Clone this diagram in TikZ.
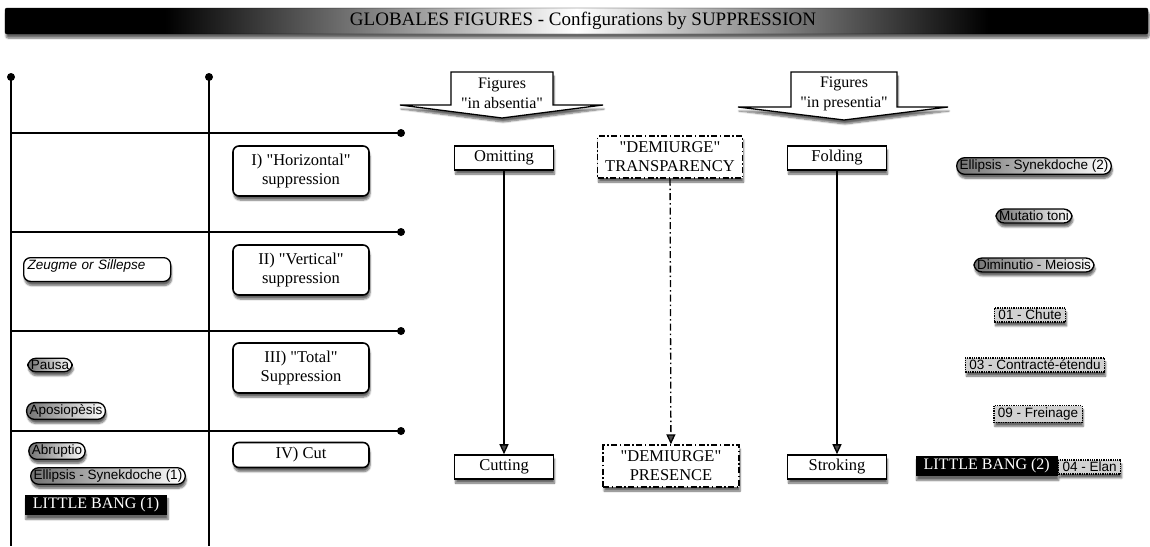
\documentclass[tikz,border=0pt]{standalone}
\usepackage{fontspec}
\setmainfont{Liberation Serif}[Ligatures=TeXOff]
\setsansfont{Liberation Sans}[Ligatures=TeXOff]
\usetikzlibrary{arrows.meta,shadows,shadows.blur}

\pgfdeclarehorizontalshading{titlebar}{100bp}{color(0bp)=(black); color(32bp)=(black); color(50bp)=(white); color(68bp)=(black); color(100bp)=(black)}

\begin{document}
\begin{tikzpicture}[x=1pt,y=-1pt]

	\tikzset{
		shade it/.style={blur shadow={shadow xshift=1pt,shadow yshift=-4pt,shadow blur steps=6,shadow opacity=60}},
		stage/.style={draw,line width=1.6pt,rounded corners=6pt,fill=white,align=center,font=\fontsize{16.5}{19}\selectfont,minimum width=136pt,shade it},
		verb/.style={draw,line width=1.6pt,fill=white,font=\fontsize{16.5}{18}\selectfont,minimum width=99pt,minimum height=24pt,inner sep=1pt,shade it},
		demi/.style={draw,line width=1.3pt,dash pattern=on 6pt off 2.5pt on 1.5pt off 2.5pt,fill=white,align=center,font=\fontsize{16.5}{19}\selectfont,minimum height=42pt,inner sep=2pt,shade it},
		pill/.style={draw,line width=1.3pt,rounded corners=8pt,left color=black!55,middle color=black!12,right color=white,font=\sffamily\fontsize{13.5}{14}\selectfont,inner xsep=3pt,inner ysep=2pt,shade it},
		note/.style={draw,line width=1.3pt,rounded corners=7pt,fill=white,font=\sffamily\itshape\fontsize{13.5}{14}\selectfont,inner xsep=4pt,inner ysep=2pt,shade it},
		tag/.style={draw,densely dotted,line width=1.3pt,fill=black!18,font=\sffamily\fontsize{13.5}{14}\selectfont,inner xsep=4pt,inner ysep=2pt,shade it},
		bang/.style={fill=black,text=white,font=\fontsize{16}{18}\selectfont,inner xsep=8pt,inner ysep=3pt,shade it},
		knob/.style={circle,fill=black,inner sep=0pt,minimum size=8pt},
		flow/.style={line width=1.3pt,-{Triangle[length=10pt,width=9pt]}}
	}
	
	\useasboundingbox (0,0) rectangle (1150,546);
	
	% title bar
	\path[shade,shading=titlebar,draw=black,rounded corners=2pt,shade it] (5,8) rectangle (1148,34);
	\node[font=\fontsize{19}{20}\selectfont] (title) at (583,21) {GLOBALES FIGURES - Configurations by SUPPRESSION};
	
	% the two pillars
	\draw[line width=1.6pt] (11,77) -- (11,546);
	\draw[line width=1.6pt] (209,77) -- (209,546);
	\node[knob] (pillA) at (11,77) {};
	\node[knob] (pillB) at (209,77) {};
	
	% the four levels
	\foreach \y in {133,232,331,431}{
		\draw[line width=1.6pt] (11,\y) -- (401,\y);
		\node[knob] (lvl\y) at (401,\y) {};
	}
	
	\node[stage,minimum height=50pt] (hor) at (301,171) {I) "Horizontal"\\suppression};
	\node[stage,minimum height=50pt] (vert) at (301,270) {II) "Vertical"\\suppression};
	\node[stage,minimum height=50pt] (total) at (301,368) {III) "Total"\\Suppression};
	\node[stage,minimum height=25pt,inner ysep=1pt] (cutIV) at (301,455) {IV) Cut};
	
	% left column
	\node[note,anchor=north west,text width=139pt,text depth=10pt] (zeug) at (23,257) {Zeugme or Sillepse};
	\node[pill] (pausa) at (50,365) {Pausa};
	\node[pill] (apos) at (66,411) {Aposiopèsis};
	\node[pill] (abru) at (57,451) {Abruptio};
	\node[pill] (ellA) at (108,476) {Ellipsis - Synekdoche (1)};
	\node[bang] (bangA) at (96,505) {LITTLE BANG (1)};
	
	% big arrows
	\draw[fill=white,line width=1.3pt,shade it] (451,72) -- (553,72) -- (553,105) -- (603,105) -- (502,118) -- (400,105) -- (451,105) -- cycle;
	\node[align=center,font=\fontsize{16}{20}\selectfont] (absen) at (502,93) {Figures\\"in absentia"};
	\draw[fill=white,line width=1.3pt,shade it] (791,72) -- (897,72) -- (897,107) -- (948,107) -- (844,120) -- (738,107) -- (791,107) -- cycle;
	\node[align=center,font=\fontsize{16}{20}\selectfont] (presen) at (844,94) {Figures\\"in presentia"};
	
	% middle
	\node[verb] (omit) at (504,158) {Omitting};
	\node[verb] (cut) at (504,467) {Cutting};
	\node[demi,minimum width=145pt] (transp) at (670,157) {"DEMIURGE"\\TRANSPARENCY};
	\node[demi,minimum width=136pt] (presence) at (671,466) {"DEMIURGE"\\PRESENCE};
	\node[verb] (fold) at (837,158) {Folding};
	\node[verb] (stroke) at (837,467) {Stroking};
	
	\draw[flow] (omit) -- (cut);
	\draw[flow,dash pattern=on 7pt off 3pt on 1.5pt off 3pt] (transp) -- (presence);
	\draw[flow] (fold) -- (stroke);
	
	% right column
	\node[pill] (ellB) at (1034,166) {Ellipsis - Synekdoche (2)};
	\node[pill] (muta) at (1034,216) {Mutatio toni};
	\node[pill] (dimi) at (1034,265) {Diminutio - Meiosis};
	\node[tag] (chute) at (1030,315) {01 - Chute};
	\node[tag] (contr) at (1035,365) {03 - Contracté-étendu};
	\node[tag] (frein) at (1038,414) {09 - Freinage};
	\node[bang,anchor=east] (bangB) at (1058,466) {LITTLE BANG (2)};
	\node[tag,anchor=west] (elan) at (1058,467) {04 - Elan};
	
\end{tikzpicture}
\end{document}
